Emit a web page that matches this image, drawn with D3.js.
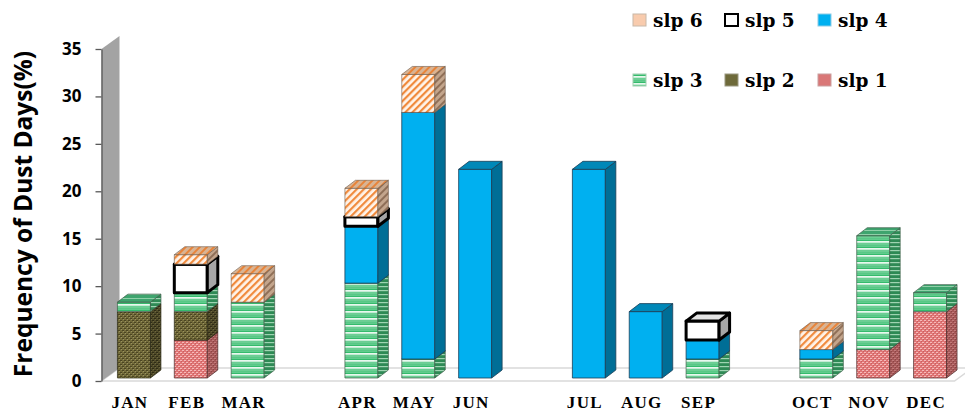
<!DOCTYPE html>
<html>
<head>
<meta charset="utf-8">
<script src="https://cdn.jsdelivr.net/npm/d3@7"></script>
<style>
  body { margin: 0; background: #fff; }
  svg { display: block; }
</style>
</head>
<body>
<svg id="chart" width="965" height="414"></svg>
<script>
// dati ------------------------------------------------------------------
const months = ["JAN","FEB","MAR","APR","MAY","JUN","JUL","AUG","SEP","OCT","NOV","DEC"];
// prazni sloti med skupinami mesecev
const slots = ["JAN","FEB","MAR","_1","APR","MAY","JUN","_2","JUL","AUG","SEP","_3","OCT","NOV","DEC"];
const keys = ["slp1","slp2","slp3","slp4","slp5","slp6"];
const slp1 = [0,4,0,0,0,0,0,0,0,0,3,7];
const slp2 = [7,3,0,0,0,0,0,0,0,0,0,0];
const slp3 = [1,2,8,10,2,0,0,0,2,2,12,2];
const slp4 = [0,0,0,6,26,22,22,7,2,1,0,0];
const slp5 = [0,3,0,1,0,0,0,0,2,0,0,0];
const slp6 = [0,1,3,3,4,0,0,0,0,2,0,0];
const yTicks = [0,5,10,15,20,25,30,35];
const legendRows = [["slp6","slp5","slp4"],["slp3","slp2","slp1"]];

const series = {slp1, slp2, slp3, slp4, slp5, slp6};
const rows = months.map((m, i) => {
  const r = {month: m};
  keys.forEach(k => r[k] = series[k][i]);
  return r;
});
const stacked = d3.stack().keys(keys)(rows);

// osnova ----------------------------------------------------------------
const svg = d3.select("#chart");
const defs = svg.append("defs");

const x = d3.scaleBand().domain(slots).range([101.5, 954.5]).paddingInner(0.42).paddingOuter(0.21);
const y = d3.scaleLinear().domain([0, 35]).range([381, 49]);

const wallDx = 18, wallDy = 13;   // globina tal / stene
const barDx = 10.5, barDy = 8;    // globina stolpca
const setX = 4, setY = 3;         // zamik stolpcev v globino

// vzorci
function stripes(id, h, base, lines) {
  const p = defs.append("pattern").attr("id", id).attr("patternUnits", "userSpaceOnUse")
    .attr("width", 8).attr("height", h);
  p.append("rect").attr("width", 8).attr("height", h).attr("fill", base);
  lines.forEach(l => p.append("rect").attr("y", l[0]).attr("width", 8).attr("height", l[1]).attr("fill", l[2]));
}
stripes("p3f", 7, "#34bb6c", [[3, 1.8, "#e8f8ee"], [0.6, 0.9, "#8edcae"], [5.6, 0.8, "#bfeccf"]]);
stripes("p3s", 4, "#2e8a55", [[2, 1.2, "#9fd4b2"]]);
stripes("p3t", 4, "#3ea46e", [[2, 1, "#8fd0a8"]]);

function dots(id, base, dot, dot2) {
  const p = defs.append("pattern").attr("id", id).attr("patternUnits", "userSpaceOnUse")
    .attr("width", 4).attr("height", 4);
  p.append("rect").attr("width", 4).attr("height", 4).attr("fill", base);
  p.append("rect").attr("x", 0).attr("y", 0).attr("width", 2).attr("height", 1).attr("fill", dot);
  p.append("rect").attr("x", 2).attr("y", 2).attr("width", 2).attr("height", 1).attr("fill", dot);
  p.append("rect").attr("x", 1).attr("y", 1).attr("width", 1).attr("height", 1).attr("fill", dot2);
  p.append("rect").attr("x", 3).attr("y", 3).attr("width", 1).attr("height", 1).attr("fill", dot2);
}
dots("p2f", "#726b3a", "#4b4522", "#9a9262");
dots("p2s", "#4f4a28", "#2f2c16", "#6d6740");
dots("p1f", "#e07676", "#f6b9b9", "#c95e5e");
dots("p1s", "#a65858", "#c27a7a", "#8a4444");

function hatch(id, base, line, w) {
  const p = defs.append("pattern").attr("id", id).attr("patternUnits", "userSpaceOnUse")
    .attr("width", 5).attr("height", 5).attr("patternTransform", "rotate(45)");
  p.append("rect").attr("width", 5).attr("height", 5).attr("fill", base);
  p.append("rect").attr("width", w).attr("height", 5).attr("fill", line);
}
hatch("p6f", "#fff4ea", "#f08a3c", 2.2);
hatch("p6s", "#c3a58c", "#8f6f57", 2);
hatch("p6t", "#d9b494", "#e8843a", 2);

const faces = {
  slp1: {front: "url(#p1f)", side: "url(#p1s)", top: "#c26a6a", stroke: "#4a2a2a", sw: 0.7},
  slp2: {front: "url(#p2f)", side: "url(#p2s)", top: "#5e5830", stroke: "#2a2812", sw: 0.7},
  slp3: {front: "url(#p3f)", side: "url(#p3s)", top: "url(#p3t)", stroke: "#3f5f4a", sw: 0.7},
  slp4: {front: "#00b0f0", side: "#006e96", top: "#0088b8", stroke: "#1c3d55", sw: 0.8},
  slp5: {front: "#ffffff", side: "#a6a6a6", top: "#e3e3e3", stroke: "#000000", sw: 3},
  slp6: {front: "url(#p6f)", side: "url(#p6s)", top: "url(#p6t)", stroke: "#6b5a4c", sw: 0.6}
};
const swatch = {
  slp1: ["#d97777", "#c9a0a0", 1], slp2: ["#6e6a3a", "#9a9880", 1], slp3: ["url(#p3f)", "#9fcfb0", 1],
  slp4: ["#00b0f0", "#8ccbe6", 1], slp5: ["#ffffff", "#000000", 2], slp6: ["#f8cbad", "#c8b8a8", 1]
};

// stena in tla
const x0 = x.range()[0], x1 = x.range()[1];
svg.append("polygon")
  .attr("points", [[x0, y(0)], [x1, y(0)], [x1 + wallDx, y(0) - wallDy], [x0 + wallDx, y(0) - wallDy]].join(" "))
  .attr("fill", "#fff").attr("stroke", "#d9d9d9").attr("stroke-width", 1.5);
svg.append("polygon")
  .attr("points", [[x0, y(35)], [x0 + wallDx, y(35) - wallDy], [x0 + wallDx, y(0) - wallDy], [x0, y(0)]].join(" "))
  .attr("fill", "#a3a3a3");

// stolpci
const bw = x.bandwidth();
const g = svg.append("g");
months.forEach((m, i) => {
  const left = x(m) + setX;
  stacked.forEach(s => {
    const d = s[i];
    if (d[1] - d[0] <= 0) return;
    const f = faces[s.key];
    const yt = y(d[1]) - setY, yb = y(d[0]) - setY;
    const seg = g.append("g").attr("stroke", f.stroke).attr("stroke-width", f.sw).attr("stroke-linejoin", "round");
    seg.append("rect").attr("x", left).attr("y", yt).attr("width", bw).attr("height", yb - yt).attr("fill", f.front);
    seg.append("polygon")
      .attr("points", [[left + bw, yb], [left + bw + barDx, yb - barDy], [left + bw + barDx, yt - barDy], [left + bw, yt]].join(" "))
      .attr("fill", f.side);
    seg.append("polygon")
      .attr("points", [[left, yt], [left + barDx, yt - barDy], [left + bw + barDx, yt - barDy], [left + bw, yt]].join(" "))
      .attr("fill", f.top);
  });
});

// os y
const yAxis = svg.append("g").attr("transform", `translate(${x0},0)`)
  .call(d3.axisLeft(y).tickValues(yTicks).tickSize(6).tickSizeOuter(0).tickPadding(14));
yAxis.select(".domain").attr("stroke", "#595959").attr("stroke-width", 1.3);
yAxis.selectAll(".tick line").attr("stroke", "#595959").attr("stroke-width", 1.3);
yAxis.selectAll("text").attr("font-family", "'Open Sans', sans-serif").attr("font-weight", 700)
  .attr("font-size", 17).attr("fill", "#000");

svg.append("text")
  .attr("transform", `translate(32,${(y(0) + y(35)) / 2 - 1}) rotate(-90)`)
  .attr("text-anchor", "middle")
  .attr("font-family", "'Open Sans', sans-serif").attr("font-weight", 700).attr("font-size", 24.5)
  .text("Frequency of Dust Days(%)");

// os x
const xAxis = svg.append("g").attr("transform", `translate(0,${y(0)})`)
  .call(d3.axisBottom(x).tickSize(0).tickPadding(15).tickFormat(d => d.startsWith("_") ? "" : d));
xAxis.select(".domain").remove();
xAxis.selectAll("text").attr("font-family", "'Liberation Serif', 'Times New Roman', serif")
  .attr("font-weight", 700).attr("font-size", 17).attr("letter-spacing", 1.3).attr("fill", "#000");

// legenda
const colX = [633, 725, 818], rowY = [20, 80];
legendRows.forEach((r, ri) => {
  r.forEach((k, ci) => {
    const lg = svg.append("g").attr("transform", `translate(${colX[ci]},${rowY[ri]})`);
    const sw = swatch[k];
    lg.append("rect").attr("x", 0).attr("y", -6).attr("width", 13).attr("height", 12)
      .attr("fill", sw[0]).attr("stroke", sw[1]).attr("stroke-width", sw[2]);
    lg.append("text").attr("x", 20).attr("y", 7)
      .attr("font-family", "'DejaVu Serif', serif").attr("font-weight", 700).attr("font-size", 18.5)
      .text(k.replace("slp", "slp "));
  });
});
</script>
</body>
</html>
